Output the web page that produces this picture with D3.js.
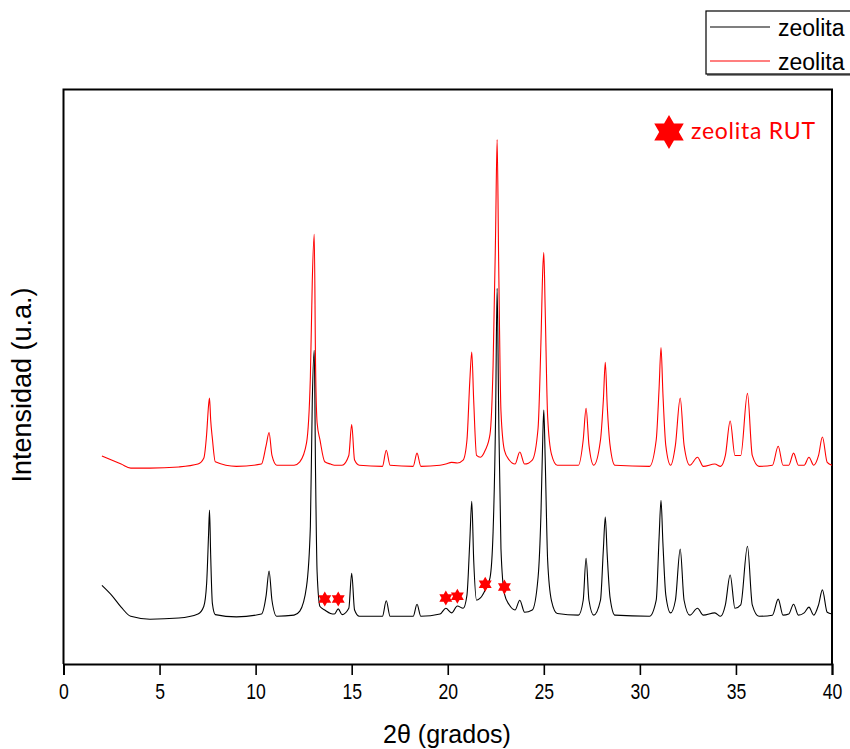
<!DOCTYPE html>
<html>
<head>
<meta charset="utf-8">
<script src="https://cdn.jsdelivr.net/npm/d3@7"></script>
<style>
  html, body { margin: 0; padding: 0; background: #fff; }
  svg { display: block; }
</style>
</head>
<body>
<svg id="chart" width="850" height="749"></svg>
<script>
// 2θ sampling points (degrees), shared by both diffraction patterns
const twoTheta = [
  2.0, 2.5, 3.0, 3.5, 4.5, 6.0, 7.0, 7.3, 7.45, 7.55, 7.6, 7.66, 7.75, 7.9,
  9.0, 10.3, 10.55, 10.7, 10.85, 11.1,
  12.0, 12.3, 12.65, 12.85, 12.95, 13.05, 13.12, 13.2, 13.35, 13.6, 13.9, 14.1, 14.3, 14.5,
  14.85, 15.0, 15.15, 15.4,
  16.6, 16.8, 17.0, 18.2, 18.4, 18.6,
  19.6, 19.9, 20.2, 20.5, 20.8,
  21.0, 21.15, 21.25, 21.35, 21.5, 21.7, 21.95,
  22.2, 22.36, 22.49, 22.57, 22.65, 22.77, 22.95, 23.2, 23.5, 23.75, 24.0,
  24.4, 24.7, 24.85, 24.95, 25.0, 25.07, 25.2, 25.4, 25.7,
  26.8, 27.05, 27.2, 27.35, 27.6, 27.95, 28.1, 28.2, 28.3, 28.45, 28.7,
  30.5, 30.85, 31.0, 31.1, 31.2, 31.35, 31.6, 31.85, 32.1, 32.3, 32.6,
  33.0, 33.3, 33.9, 34.2, 34.45, 34.7, 34.95, 35.25, 35.6, 35.85, 36.2,
  36.9, 37.2, 37.45, 37.75, 38.0, 38.25, 38.55, 38.8, 39.05, 39.3, 39.5, 39.75, 40.0
];

// Intensity (arbitrary units) of the black pattern
const intensityBlack = [
  137, 120, 99, 83, 78, 80, 87, 100, 140, 225, 268, 190, 105, 86,
  82, 87, 120, 162, 111, 83,
  85, 92, 135, 240, 459, 546, 330, 160, 100, 94, 88, 87, 96, 86,
  97, 158, 94, 83,
  83, 110, 83, 83, 104, 83,
  87, 97, 89, 101, 97,
  120, 216, 283, 181, 111, 115, 129,
  150, 230, 430, 654, 440, 200, 122, 103, 94, 111, 90,
  94, 150, 260, 400, 442, 360, 180, 110, 88,
  85, 111, 184, 111, 85, 111, 200, 256, 190, 115, 85,
  83, 111, 220, 285, 210, 120, 89, 111, 200, 111, 85,
  97, 85, 89, 83, 103, 155, 97, 103, 205, 103, 83,
  85, 113, 85, 87, 104, 85, 89, 99, 85, 103, 129, 90, 87
];

// Intensity (arbitrary units) of the red pattern, drawn with its own offset
const intensityRed = [
  362, 355, 348, 341, 341, 343, 348, 358, 400, 450, 463, 425, 392, 352,
  344, 348, 381, 403, 363, 346,
  346, 352, 385, 500, 668, 748, 520, 420, 390, 352, 348, 346, 346, 346,
  363, 417, 355, 346,
  344, 372, 346, 344, 367, 344,
  346, 348, 351, 350, 355,
  390, 494, 543, 459, 363, 360, 372,
  400, 520, 750, 913, 700, 440, 372, 355, 348, 369, 348,
  355, 410, 560, 690, 716, 620, 430, 365, 346,
  346, 390, 445, 381, 346, 390, 460, 525, 450, 380, 346,
  344, 390, 480, 551, 470, 380, 346, 381, 463, 381, 346,
  360, 344, 348, 344, 363, 423, 363, 363, 471, 363, 344,
  346, 379, 346, 346, 367, 346, 346, 360, 346, 363, 395, 351, 346
];

// Reflections attributed to zeolita RUT (2θ, intensity)
const rutTheta = [13.6, 14.3, 19.9, 20.5, 21.95, 22.95];
const rutIntensity = [113, 113, 115, 118, 139, 134];

const seriesNames = ["zeolita", "zeolita"];
const seriesColors = ["#000000", "#ff0000"];
const majorTicks = [0, 5, 10, 15, 20, 25, 30, 35, 40];
const minorTicks = [2.5, 7.5, 12.5, 17.5, 22.5, 27.5, 32.5, 37.5];
const xTitle = "2θ (grados)";
const yTitle = "Intensidad (u.a.)";
const markerLabel = "zeolita RUT";

const svg = d3.select("#chart");
const plot = { left: 63.5, right: 832, top: 89.5, bottom: 664 };

const x = d3.scaleLinear().domain([0, 40]).range([plot.left, plot.right]);
const y = d3.scaleLinear().domain([0, 1000]).range([plot.bottom, plot.top]);

// Six-pointed star symbol; size is the square of the outer radius
const hexagram = {
  draw(ctx, size) {
    const R = Math.sqrt(size), r = R / Math.sqrt(3);
    for (let k = 0; k < 12; k++) {
      const a = -Math.PI / 2 + k * Math.PI / 6;
      const rad = k % 2 === 0 ? R : r;
      const px = rad * Math.cos(a), py = rad * Math.sin(a);
      if (k === 0) ctx.moveTo(px, py); else ctx.lineTo(px, py);
    }
    ctx.closePath();
  }
};

// Frame: left, top and right sides
svg.append("path")
  .attr("d", `M${plot.left},${plot.bottom} V${plot.top} H${plot.right} V${plot.bottom}`)
  .attr("fill", "none").attr("stroke", "#000").attr("stroke-width", 2);

// Patterns: red first, black on top
const line = d3.line().x((d) => x(d[0])).y((d) => y(d[1])).curve(d3.curveMonotoneX);
svg.append("path")
  .datum(twoTheta.map((t, i) => [t, intensityRed[i]]))
  .attr("d", line).attr("fill", "none")
  .attr("stroke", seriesColors[1]).attr("stroke-width", 1.1).attr("stroke-linejoin", "round");
svg.append("path")
  .datum(twoTheta.map((t, i) => [t, intensityBlack[i]]))
  .attr("d", line).attr("fill", "none")
  .attr("stroke", seriesColors[0]).attr("stroke-width", 1.1).attr("stroke-linejoin", "round");

// RUT markers
svg.selectAll("path.rut")
  .data(rutTheta.map((t, i) => [t, rutIntensity[i]]))
  .join("path").attr("class", "rut")
  .attr("transform", (d) => `translate(${x(d[0])},${y(d[1])})`)
  .attr("d", d3.symbol().type(hexagram).size(56))
  .attr("fill", "#ff0000");

// Bottom axis with major and minor ticks
const axisG = svg.append("g").attr("transform", `translate(0,${plot.bottom})`);
axisG.call(d3.axisBottom(x).tickValues(minorTicks).tickSize(6).tickFormat(""));
axisG.call(d3.axisBottom(x).tickValues(majorTicks).tickSize(11).tickPadding(8).tickFormat(d3.format("d")));
axisG.selectAll(".domain").attr("stroke-width", 2);
axisG.selectAll(".tick line").attr("stroke-width", 1.6);
axisG.selectAll(".tick text")
  .attr("font-family", "'Liberation Sans', Arial, sans-serif")
  .attr("font-size", 22).attr("fill", "#000")
  .attr("transform", "scale(0.8,1)");

// Axis titles
svg.append("text")
  .attr("x", 447).attr("y", 743).attr("text-anchor", "middle")
  .attr("font-family", "'Liberation Sans', Arial, sans-serif").attr("font-size", 25)
  .text(xTitle);
svg.append("text")
  .attr("transform", "translate(31,385) rotate(-90)").attr("text-anchor", "middle")
  .attr("font-family", "'Liberation Sans', Arial, sans-serif").attr("font-size", 27)
  .text(yTitle);

// Marker key
svg.append("path")
  .attr("transform", "translate(669,132)")
  .attr("d", d3.symbol().type(hexagram).size(290))
  .attr("fill", "#ff0000");
svg.append("text")
  .attr("x", 691).attr("y", 139)
  .attr("font-family", "Lato, 'Open Sans', sans-serif").attr("font-size", 23)
  .attr("textLength", 124).attr("lengthAdjust", "spacing")
  .attr("fill", "#ff0000")
  .text(markerLabel);

// Legend
const legend = svg.append("g");
legend.append("rect")
  .attr("x", 707).attr("y", 12).attr("width", 160).attr("height", 64)
  .attr("fill", "#888");
legend.append("rect")
  .attr("x", 706).attr("y", 11).attr("width", 160).attr("height", 63)
  .attr("fill", "#fff").attr("stroke", "#000").attr("stroke-width", 1.2);
seriesNames.forEach((name, i) => {
  const ly = 27 + i * 34;
  legend.append("line")
    .attr("x1", 710).attr("x2", 770).attr("y1", ly).attr("y2", ly)
    .attr("stroke", seriesColors[i]).attr("stroke-width", 1.2);
  legend.append("text")
    .attr("x", 778).attr("y", ly + 9)
    .attr("font-family", "'Liberation Sans', Arial, sans-serif").attr("font-size", 23)
    .text(name);
});
</script>
</body>
</html>
